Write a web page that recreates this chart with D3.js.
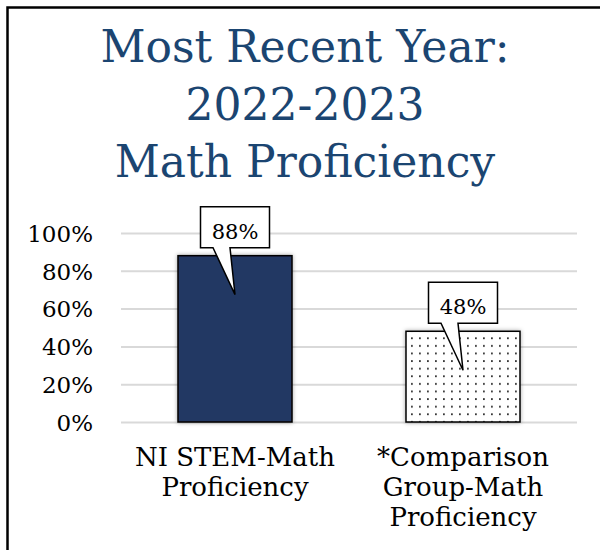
<!DOCTYPE html>
<html>
<head>
<meta charset="utf-8">
<script src="https://cdn.jsdelivr.net/npm/d3@7"></script>
<style>
  body { margin: 0; background: #fff; }
  svg { display: block; font-family: "DejaVu Serif", serif; }
</style>
</head>
<body>
<div id="chart"></div>
<script>
// chart data
var titleLines = ['Most Recent Year:', '2022-2023', 'Math Proficiency'];
var categories = ['NI STEM-Math Proficiency', '*Comparison Group-Math Proficiency'];
var categoryLines = [['NI STEM-Math', 'Proficiency'], ['*Comparison', 'Group-Math', 'Proficiency']];
var values = [0.88, 0.48];
var yTicks = [0, 0.2, 0.4, 0.6, 0.8, 1];

var width = 600,
    height = 550;

var svg = d3.select('#chart').append('svg')
    .attr('width', width)
    .attr('height', height);

var defs = svg.append('defs');

// dotted fill for the comparison bar
var pat = defs.append('pattern')
    .attr('id', 'dots')
    .attr('patternUnits', 'userSpaceOnUse')
    .attr('width', 8)
    .attr('height', 7.6);
pat.append('rect').attr('width', 8).attr('height', 7.6).attr('fill', '#fff');
pat.append('rect').attr('x', 3).attr('y', 3).attr('width', 1.8).attr('height', 1.8).attr('fill', '#333');

var shadow = defs.append('filter').attr('id', 'shadow')
    .attr('x', '-20%').attr('y', '-20%').attr('width', '140%').attr('height', '140%');
shadow.append('feDropShadow')
    .attr('dx', 0).attr('dy', 0)
    .attr('stdDeviation', 2)
    .attr('flood-color', '#000')
    .attr('flood-opacity', 0.35);

// frame (only top and left edges are in view)
svg.append('path')
    .attr('d', 'M7.5,' + height + 'V7.5H' + width)
    .attr('fill', 'none')
    .attr('stroke', '#000')
    .attr('stroke-width', 2.5);

// title
svg.append('text')
    .attr('text-anchor', 'middle')
    .attr('fill', '#1b4571')
    .attr('font-size', 44)
  .selectAll('tspan')
    .data(titleLines)
  .enter().append('tspan')
    .attr('x', 305)
    .attr('y', function(d, i) { return 62 + i * 57.5; })
    .text(function(d) { return d; });

var x = d3.scaleBand()
    .domain(categories)
    .range([121, 577])
    .paddingInner(0.5)
    .paddingOuter(0.25);

var y = d3.scaleLinear()
    .domain([0, 1])
    .range([422, 233]);

// gridlines + tick labels
var yAxis = svg.append('g')
    .attr('transform', 'translate(121,0)')
    .call(d3.axisLeft(y)
      .tickValues(yTicks)
      .tickFormat(d3.format('.0%'))
      .tickSize(-456)
      .tickPadding(28));
yAxis.select('.domain').remove();
yAxis.selectAll('.tick line')
    .attr('stroke', '#d9d9d9')
    .attr('stroke-width', 2);
yAxis.selectAll('.tick text')
    .attr('font-family', '"DejaVu Serif", serif')
    .attr('font-size', 23)
    .attr('fill', '#000')
    .attr('dy', '0.36em');

// bars
svg.append('g').selectAll('rect')
    .data(values)
  .enter().append('rect')
    .attr('x', function(d, i) { return x(categories[i]); })
    .attr('y', function(d) { return y(d); })
    .attr('width', x.bandwidth())
    .attr('height', function(d) { return y(0) - y(d); })
    .attr('fill', function(d, i) { return i === 0 ? '#203864' : 'url(#dots)'; })
    .attr('stroke', '#000')
    .attr('stroke-width', 1.5)
    .attr('filter', 'url(#shadow)');

// callout labels
var boxW = 69, boxH = 41;
var callouts = svg.append('g').selectAll('g')
    .data(values)
  .enter().append('g');

callouts.append('path')
    .attr('d', function(d, i) {
      var cx = x(categories[i]) + x.bandwidth() / 2,
          y1 = y(d) - 8,
          y0 = y1 - boxH,
          x0 = cx - boxW / 2,
          x1 = cx + boxW / 2,
          tip = y(d) + 39;
      return 'M' + x0 + ',' + y0 + 'H' + x1 + 'V' + y1 + 'H' + (cx - 5) +
        'L' + cx + ',' + tip + 'L' + (cx - 22) + ',' + y1 + 'H' + x0 + 'Z';
    })
    .attr('fill', '#fff')
    .attr('stroke', '#000')
    .attr('stroke-width', 1.5)
    .attr('stroke-linejoin', 'miter');

callouts.append('text')
    .attr('x', function(d, i) { return x(categories[i]) + x.bandwidth() / 2; })
    .attr('y', function(d) { return y(d) - 17; })
    .attr('text-anchor', 'middle')
    .attr('font-size', 21)
    .attr('fill', '#000')
    .text(function(d) { return d3.format('.0%')(d); });

// category labels
svg.append('g').selectAll('text')
    .data(categories)
  .enter().append('text')
    .attr('text-anchor', 'middle')
    .attr('font-size', 26)
    .attr('fill', '#000')
    .each(function(d, i) {
      d3.select(this).selectAll('tspan')
          .data(categoryLines[i])
        .enter().append('tspan')
          .attr('x', x(d) + x.bandwidth() / 2)
          .attr('y', function(t, j) { return 466 + j * 30; })
          .text(function(t) { return t; });
    });
</script>
</body>
</html>
